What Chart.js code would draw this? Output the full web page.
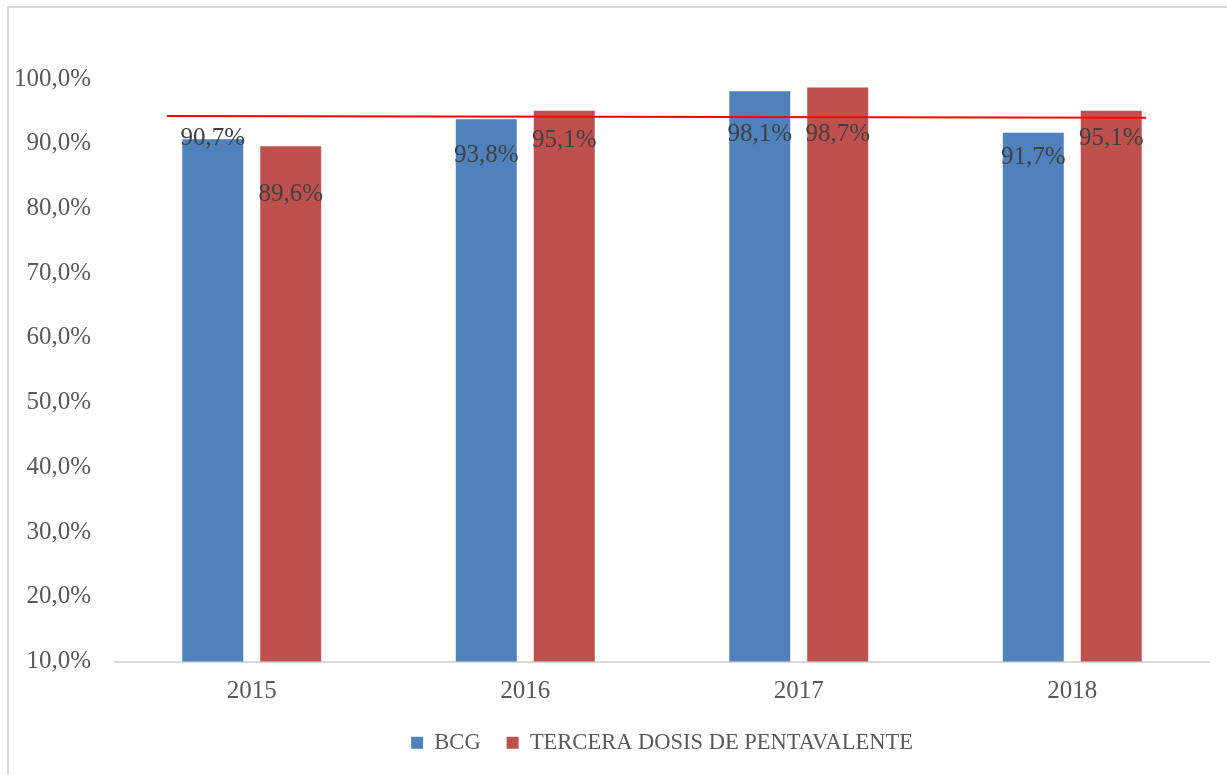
<!DOCTYPE html>
<html><head><meta charset="utf-8">
<script src="https://cdn.jsdelivr.net/npm/chart.js@4.4.1/dist/chart.umd.min.js"></script>
<style>
html,body{margin:0;padding:0;background:#fff;}
#wrap{position:relative;width:1227px;height:775px;}
#frame{position:absolute;left:7px;top:6px;right:0;bottom:0;border-left:2px solid #d9d9d9;border-top:2px solid #d9d9d9;pointer-events:none;}
</style></head>
<body>
<div id="wrap"><canvas id="c" width="1227" height="775"></canvas><div id="frame"></div></div>
<script>
const years = ['2015','2016','2017','2018'];
const bcg = [90.7, 93.8, 98.1, 91.7];
const penta = [89.6, 95.1, 98.7, 95.1];
const seriesNames = ['BCG', 'TERCERA DOSIS DE PENTAVALENTE'];
// reference line ends, in category-index units and percent
const refLineX = [-0.31, 3.27];
const refLineY = [94.3, 94.0];

const FONT = "'Liberation Serif', 'Times New Roman', serif";
const fmt = v => v.toFixed(1).replace('.', ',') + '%';

const refLine = {
  id: 'refLine',
  afterDatasetsDraw(chart) {
    const {ctx, scales: {x, y}} = chart;
    ctx.save();
    ctx.strokeStyle = '#ff0000';
    ctx.lineWidth = 2;
    ctx.beginPath();
    refLineX.forEach((v, i) => {
      const px = x.getPixelForValue(v), py = y.getPixelForValue(refLineY[i]);
      if (i === 0) ctx.moveTo(px, py); else ctx.lineTo(px, py);
    });
    ctx.stroke();
    ctx.restore();
  }
};

const barLabels = {
  id: 'barLabels',
  afterDatasetsDraw(chart, args, opts) {
    const ctx = chart.ctx;
    ctx.save();
    ctx.font = '25px ' + FONT;
    ctx.fillStyle = '#404040';
    ctx.textAlign = 'center';
    ctx.textBaseline = 'middle';
    chart.data.datasets.forEach((ds, i) => {
      const meta = chart.getDatasetMeta(i);
      meta.data.forEach((bar, j) => {
        const dy = (opts.dy[i] || [])[j] || 0;
        ctx.fillText(fmt(ds.data[j]), bar.x, bar.y + dy);
      });
    });
    ctx.restore();
  }
};

new Chart(document.getElementById('c'), {
  type: 'bar',
  data: {
    labels: years,
    datasets: [
      {label: seriesNames[0], data: bcg, backgroundColor: '#4f81bd'},
      {label: seriesNames[1], data: penta, backgroundColor: '#c0504d'}
    ]
  },
  options: {
    responsive: false,
    animation: false,
    events: [],
    layout: {padding: {left: 15, top: 79, right: 18, bottom: 11}},
    datasets: {bar: {barPercentage: 0.782, categoryPercentage: 0.57}},
    scales: {
      x: {
        grid: {display: false},
        border: {display: true, color: '#d9d9d9', width: 2},
        ticks: {font: {family: FONT, size: 25}, color: '#595959', padding: 7},
        afterFit: s => { s.height -= 8; }
      },
      y: {
        min: 10, max: 100,
        grid: {display: false},
        border: {display: false},
        ticks: {stepSize: 10, font: {family: FONT, size: 25}, color: '#595959', padding: 16,
                callback: v => fmt(v)},
        afterFit: s => { s.width = 100; }
      }
    },
    plugins: {
      legend: {
        position: 'bottom',
        fullSize: false,
        labels: {
          font: {family: FONT, size: 22.5}, color: '#595959',
          boxWidth: 12, boxHeight: 12, padding: 26
        }
      },
      tooltip: {enabled: false},
      barLabels: {dy: [[-1, 36, 43, 25], [48, 30, 47, 28]]}
    }
  },
  plugins: [refLine, barLabels]
});
</script>
</body></html>
